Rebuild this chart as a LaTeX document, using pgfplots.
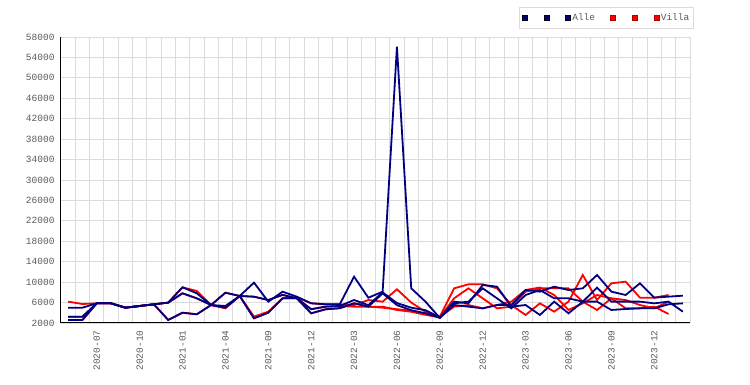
\documentclass[border=0pt]{standalone}
\usepackage{fontspec}
\setmainfont{Liberation Mono}
\usepackage{pgfplots}
\pgfplotsset{compat=1.18}
\usepackage{pgfplotstable}
\definecolor{navy}{HTML}{000080}
\definecolor{gridgray}{HTML}{DCDCDC}
\definecolor{txtgray}{HTML}{5A5A5A}

\pgfplotstableread{
x a1 a2 a3 v1 v2 v3
0 5000 3240 2590 6180 3240 2590
1 5000 3240 2590 5720 3240 2590
2 5850 5850 5850 5850 5850 5850
3 5850 5850 5850 5850 5850 5850
4 5000 5000 5000 5000 5000 5000
5 5330 5330 5330 5330 5330 5330
6 5660 5660 5660 5660 5660 5660
7 5990 5990 2590 5990 5990 2590
8 8990 7810 4020 8990 7810 4020
9 7810 6830 3700 8270 6830 3700
10 5520 5520 5520 5520 5520 5520
11 5330 5000 7930 4870 5000 7930
12 7290 7290 7290 7290 7290 7290
13 9900 7150 2920 3240 7150 2920
14 6170 6500 4020 4220 6500 4020
15 8130 7500 6840 6830 7500 6840
16 7150 6840 6840 7000 6840 6840
17 5860 4700 3900 5860 4700 3900
18 5660 5200 4680 5660 5200 4680
19 5660 5330 4900 5660 5330 4900
20 11070 6500 5860 5500 5200 5860
21 6950 5500 5200 6500 5200 5200
22 8130 8000 7800 6180 5200 5000
23 56100 5900 5500 8600 4550 4700
24 8790 5000 4500 6000 4200 4400
25 6170 4500 3900 4200 3600 3800
26 3000 3100 3000 3240 3100 3240
27 5520 6180 5850 8790 6830 5200
28 5200 5850 6180 9570 8790 5520
29 4870 9440 8790 9570 6830 4870
30 5520 9110 6830 8790 4870 5520
31 5520 5200 4870 5520 5200 6180
32 8460 5520 7480 3570 8140 8460
33 8140 3570 8460 5850 8790 8950
34 9110 6180 6830 4220 8790 7480
35 8460 3890 6830 6180 8790 4550
36 8790 6180 6180 11400 6180 5850
37 11400 8920 6180 6500 4550 7480
38 8140 6180 4550 9770 6830 6830
39 7480 6180 4740 10090 6500 4870
40 9770 6180 4870 6960 5520 4870
41 6960 5850 4870 6960 4870 5200
42 7160 6180 5660 7480 6180 3760
43 7350 4220 5850 nan nan nan
}\data

\begin{document}
\begin{tikzpicture}
\begin{axis}[
  at={(0,0)}, anchor=south west,
  scale only axis, width=629pt, height=286pt,
  xmin=-0.5, xmax=43.5, ymin=2000, ymax=58000,
  scaled y ticks=false,
  axis lines*=left,
  axis line style={-, black, line width=1pt},
  xtick={2,5,...,41},
  xticklabels={2020-07,2020-10,2021-01,2021-04,2021-09,2021-12,2022-03,2022-06,2022-09,2022-12,2023-03,2023-06,2023-09,2023-12},
  minor xtick={0.5,1.5,...,43.5},
  xminorgrids=true, xmajorgrids=false,
  ytick={2000,6000,...,58000},
  yticklabels={2000,6000,10000,14000,18000,22000,26000,30000,34000,38000,42000,46000,50000,54000,58000},
  ymajorgrids=true,
  grid style={gridgray, line width=0.8pt},
  minor grid style={gridgray, line width=0.8pt},
  major tick length=0pt, minor tick length=0pt,
  tick label style={font=\fontsize{9.5}{10}\selectfont, text=txtgray},
  xticklabel style={rotate=90, anchor=east, xshift=-4pt},
  yticklabel style={xshift=-3pt},
  legend columns=6,
  legend style={at={(1.0048,1.104)}, anchor=north east, draw=gridgray, fill=white,
    font=\fontsize{9.5}{10}\selectfont, text=txtgray, inner xsep=2pt, inner ysep=4.5pt,
    /tikz/every even column/.append style={column sep=13.5pt},
    nodes={inner sep=1.5pt}},
  legend image code/.code={\draw[#1] (0pt,-2.5pt) rectangle (5pt,2.5pt);},
]
\addlegendimage{draw=black, fill=navy}
\addlegendentry{}
\addlegendimage{draw=black, fill=navy}
\addlegendentry{}
\addlegendimage{draw=black, fill=navy}
\addlegendentry{Alle}
\addlegendimage{draw=red!70!black, fill=red}
\addlegendentry{}
\addlegendimage{draw=red!70!black, fill=red}
\addlegendentry{}
\addlegendimage{draw=red!70!black, fill=red}
\addlegendentry{Villa}

\addplot[red, line width=1.8pt, forget plot] table[x=x, y=v1] {\data};
\addplot[red, line width=1.8pt, forget plot] table[x=x, y=v2] {\data};
\addplot[red, line width=1.8pt, forget plot] table[x=x, y=v3] {\data};
\addplot[navy, line width=1.8pt, forget plot] table[x=x, y=a1] {\data};
\addplot[navy, line width=1.8pt, forget plot] table[x=x, y=a2] {\data};
\addplot[navy, line width=1.8pt, forget plot] table[x=x, y=a3] {\data};
\end{axis}
\path[use as bounding box] (-61pt,-62pt) rectangle (689pt,323pt);
\end{tikzpicture}
\end{document}
